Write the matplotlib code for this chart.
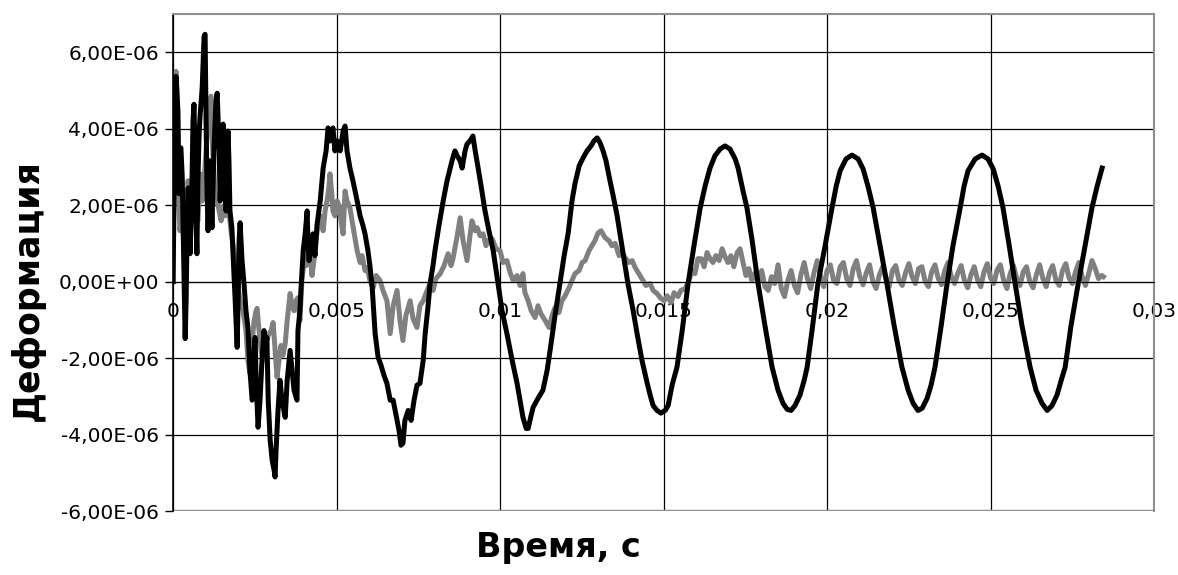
import numpy as np
import matplotlib
matplotlib.use("Agg")
import matplotlib.pyplot as plt
from matplotlib.ticker import FuncFormatter

# strain gauge records: (time, ms ; strain, 1e-6)
black = [(0, 0), (0.03, 2.11), (0.06, 4.98), (0.09, 5.37), (0.15, 4.46), (0.18, 2.30), (0.21, 3.42),
         (0.24, 3.50), (0.28, 2.77), (0.31, 1.33), (0.34, -0.23), (0.37, -1.49), (0.40, -0.50),
         (0.43, 1.33), (0.46, 2.45), (0.49, 2.11), (0.52, 0.73), (0.58, 2.64), (0.61, 4.20),
         (0.64, 4.64), (0.67, 3.42), (0.70, 1.59), (0.73, 0.73), (0.76, 2.64), (0.80, 3.94),
         (0.83, 4.38), (0.86, 4.72), (0.89, 5.06), (0.92, 5.77), (0.95, 6.42), (0.98, 6.47),
         (1.01, 4.20), (1.04, 2.37), (1.07, 1.33), (1.13, 3.16), (1.19, 1.41), (1.25, 3.42),
         (1.31, 4.72), (1.35, 4.93), (1.41, 3.42), (1.44, 2.11), (1.47, 2.64), (1.53, 4.12),
         (1.59, 2.90), (1.62, 1.85), (1.65, 3.16), (1.68, 3.94), (1.71, 3.16), (1.74, 1.85),
         (1.80, 1.41), (1.83, 0.81), (1.90, -0.50), (1.96, -1.72), (1.99, -0.50), (2.02, 1.07),
         (2.05, 1.54), (2.08, 1.07), (2.11, 0.55), (2.17, -0.05), (2.23, -0.76), (2.29, -1.20),
         (2.35, -2.32), (2.42, -3.10), (2.45, -2.97), (2.48, -1.80), (2.51, -1.46), (2.54, -2.58),
         (2.60, -3.81), (2.66, -3.10), (2.72, -2.06), (2.78, -1.28), (2.84, -1.67), (2.87, -1.46),
         (2.91, -3.10), (2.97, -4.15), (3.03, -4.67), (3.09, -4.93), (3.12, -5.11), (3.15, -4.41),
         (3.21, -3.37), (3.27, -2.58), (3.33, -3.10), (3.43, -3.55), (3.49, -2.58), (3.58, -1.80),
         (3.64, -2.32), (3.70, -2.84), (3.79, -3.10), (3.82, -1.28), (3.88, -0.76), (3.91, -0.23),
         (3.98, 0.81), (4.04, 1.25), (4.10, 1.85), (4.13, 0.94), (4.16, 0.55), (4.22, 1.07),
         (4.28, 1.25), (4.34, 0.68), (4.40, 1.46), (4.50, 2.11), (4.59, 2.97), (4.68, 3.42),
         (4.74, 4.02), (4.80, 3.68), (4.89, 4.02), (4.95, 3.42), (5.02, 3.68), (5.11, 3.42),
         (5.20, 3.94), (5.26, 4.07), (5.32, 3.42), (5.41, 2.97), (5.50, 2.64), (5.63, 2.11),
         (5.72, 1.72), (5.81, 1.46), (5.87, 1.25), (5.96, 0.81), (6.02, 0.42), (6.09, -0.16),
         (6.18, -1.36), (6.27, -1.98), (6.36, -2.19), (6.45, -2.45), (6.54, -2.66), (6.64, -3.10),
         (6.73, -3.10), (6.82, -3.50), (6.91, -3.89), (6.97, -4.28), (7.03, -4.23), (7.09, -3.63),
         (7.19, -3.37), (7.28, -3.63), (7.37, -3.10), (7.46, -2.71), (7.55, -2.66), (7.65, -2.06),
         (7.71, -1.36), (7.80, -0.63), (7.86, -0.05), (7.95, 0.42), (8.01, 0.81), (8.13, 1.46),
         (8.26, 2.11), (8.38, 2.64), (8.53, 3.16), (8.62, 3.42), (8.69, 3.29), (8.78, 3.16),
         (8.84, 2.97), (8.93, 3.42), (8.99, 3.60), (9.08, 3.68), (9.17, 3.81), (9.24, 3.42),
         (9.33, 2.97), (9.42, 2.50), (9.54, 1.85), (9.66, 1.33), (9.79, 0.81), (9.88, 0.29),
         (9.94, -0.05), (10.06, -0.76), (10.21, -1.36), (10.37, -2.06), (10.52, -2.66),
         (10.61, -3.10), (10.70, -3.55), (10.80, -3.84), (10.86, -3.84), (10.95, -3.50),
         (11.01, -3.29), (11.13, -3.10), (11.22, -2.97), (11.31, -2.84), (11.44, -2.32),
         (11.53, -1.80), (11.68, -0.89), (11.83, -0.05), (11.96, 0.68), (12.08, 1.25),
         (12.20, 2.11), (12.29, 2.56), (12.42, 3.03), (12.54, 3.24), (12.66, 3.42), (12.78, 3.55),
         (12.87, 3.68), (12.97, 3.76), (13.06, 3.63), (13.15, 3.42), (13.24, 3.16), (13.33, 2.77),
         (13.46, 2.24), (13.58, 1.72), (13.70, 1.07), (13.82, 0.42), (13.91, -0.05), (14.07, -0.76),
         (14.19, -1.36), (14.34, -2.06), (14.50, -2.66), (14.59, -2.97), (14.68, -3.24),
         (14.80, -3.37), (14.92, -3.44), (15.05, -3.37), (15.14, -3.24), (15.26, -2.71),
         (15.41, -2.24), (15.57, -1.28), (15.75, -0.05), (15.93, 0.94), (16.12, 1.93),
         (16.27, 2.50), (16.42, 2.97), (16.57, 3.29), (16.73, 3.47), (16.88, 3.55), (17.03, 3.47),
         (17.19, 3.21), (17.28, 2.97), (17.43, 2.37), (17.55, 1.93), (17.71, 1.07), (17.89, -0.05),
         (18.10, -1.15), (18.32, -2.24), (18.50, -2.84), (18.65, -3.18), (18.78, -3.34),
         (18.90, -3.37), (19.02, -3.24), (19.17, -2.97), (19.30, -2.58), (19.39, -2.24),
         (19.54, -1.28), (19.72, -0.05), (19.94, 0.94), (20.15, 1.93), (20.28, 2.50), (20.40, 2.90),
         (20.58, 3.21), (20.76, 3.31), (20.95, 3.21), (21.10, 2.95), (21.25, 2.50), (21.41, 1.93),
         (21.62, 0.94), (21.83, -0.05), (22.05, -1.15), (22.29, -2.24), (22.48, -2.84),
         (22.63, -3.18), (22.78, -3.37), (22.91, -3.31), (23.06, -3.05), (23.18, -2.71),
         (23.30, -2.24), (23.49, -1.15), (23.67, -0.05), (23.85, 0.94), (24.07, 1.93),
         (24.19, 2.50), (24.31, 2.90), (24.53, 3.21), (24.74, 3.31), (24.92, 3.21), (25.08, 2.95),
         (25.23, 2.50), (25.38, 1.93), (25.57, 0.94), (25.75, -0.05), (25.96, -1.15),
         (26.21, -2.24), (26.39, -2.84), (26.57, -3.18), (26.73, -3.37), (26.88, -3.24),
         (27.03, -2.97), (27.16, -2.58), (27.28, -2.24), (27.46, -1.15), (27.68, -0.05),
         (27.89, 0.94), (28.10, 1.93), (28.26, 2.50), (28.41, 2.97)]

gray = [(0, 0), (0.03, 3.42), (0.06, 5.24), (0.09, 5.50), (0.12, 4.98), (0.15, 3.42), (0.18, 2.11),
        (0.21, 1.33), (0.28, 1.85), (0.34, 0.81), (0.40, 1.33), (0.46, 2.64), (0.52, 1.85),
        (0.58, 2.11), (0.64, 2.37), (0.70, 1.85), (0.76, 1.59), (0.83, 2.82), (0.89, 2.11),
        (0.95, 2.64), (1.01, 3.42), (1.07, 4.20), (1.13, 4.77), (1.16, 4.85), (1.19, 3.94),
        (1.22, 3.34), (1.28, 2.37), (1.35, 2.11), (1.41, 1.85), (1.47, 1.59), (1.53, 1.98),
        (1.59, 1.72), (1.68, 2.11), (1.77, 1.33), (1.86, 0.81), (1.96, 0.03), (2.05, -0.50),
        (2.14, -0.76), (2.23, -1.28), (2.29, -2.06), (2.35, -2.40), (2.42, -1.54), (2.48, -1.02),
        (2.54, -0.76), (2.57, -0.70), (2.63, -1.28), (2.69, -1.80), (2.75, -2.06), (2.81, -1.67),
        (2.91, -1.41), (3.00, -1.28), (3.06, -1.07), (3.12, -1.80), (3.18, -2.50), (3.24, -2.06),
        (3.30, -1.67), (3.36, -1.93), (3.43, -1.62), (3.49, -1.02), (3.58, -0.31), (3.64, -0.63),
        (3.70, -0.76), (3.76, -0.50), (3.82, -0.42), (3.88, -1.02), (3.94, 0.03), (4.01, 0.55),
        (4.07, 0.42), (4.13, 0.81), (4.19, 0.68), (4.25, 0.16), (4.31, 0.55), (4.37, 1.07),
        (4.43, 1.46), (4.50, 1.72), (4.59, 1.33), (4.65, 1.85), (4.71, 2.11), (4.77, 2.50),
        (4.80, 2.82), (4.86, 2.24), (4.89, 1.85), (4.95, 1.72), (5.02, 2.11), (5.08, 1.98),
        (5.14, 1.59), (5.20, 1.25), (5.26, 2.37), (5.32, 2.11), (5.41, 1.93), (5.50, 1.46),
        (5.63, 0.81), (5.72, 0.50), (5.78, 0.68), (5.87, 0.29), (5.93, 0.37), (6.02, 0.03),
        (6.12, -0.16), (6.21, 0.16), (6.33, 0.03), (6.42, -0.23), (6.54, -0.50), (6.64, -1.36),
        (6.73, -0.63), (6.85, -0.23), (6.94, -1.02), (7.03, -1.54), (7.12, -0.89), (7.25, -0.50),
        (7.34, -0.97), (7.46, -1.20), (7.55, -0.63), (7.65, -0.50), (7.77, -0.23), (7.86, -0.05),
        (7.95, -0.23), (8.04, 0.08), (8.17, 0.21), (8.29, 0.42), (8.41, 0.73), (8.50, 0.42),
        (8.56, 0.60), (8.69, 1.20), (8.78, 1.67), (8.87, 1.07), (8.99, 0.55), (9.08, 1.20),
        (9.14, 1.59), (9.24, 1.33), (9.30, 1.41), (9.39, 1.20), (9.48, 1.25), (9.57, 0.94),
        (9.63, 1.07), (9.76, 1.12), (9.88, 0.86), (10.00, 0.81), (10.09, 0.50), (10.21, 0.55),
        (10.31, 0.23), (10.40, 0.03), (10.52, 0.16), (10.61, -0.10), (10.70, 0.21), (10.76, -0.29),
        (10.86, -0.50), (10.95, -0.76), (11.07, -0.94), (11.16, -0.63), (11.25, -0.84),
        (11.38, -1.02), (11.50, -1.20), (11.59, -0.89), (11.68, -0.68), (11.80, -0.81),
        (11.89, -0.50), (11.99, -0.37), (12.11, -0.16), (12.20, 0.03), (12.29, 0.21), (12.42, 0.29),
        (12.51, 0.50), (12.60, 0.55), (12.72, 0.81), (12.81, 0.94), (12.90, 1.07), (13.00, 1.28),
        (13.09, 1.33), (13.21, 1.15), (13.33, 1.07), (13.42, 0.94), (13.52, 1.00), (13.64, 0.68),
        (13.73, 0.76), (13.82, 0.63), (13.94, 0.50), (14.04, 0.55), (14.13, 0.37), (14.28, 0.16),
        (14.37, 0.03), (14.46, -0.10), (14.59, -0.05), (14.68, -0.23), (14.80, -0.31),
        (14.92, -0.44), (15.02, -0.50), (15.11, -0.37), (15.23, -0.55), (15.32, -0.29),
        (15.44, -0.39), (15.53, -0.23), (15.66, -0.18), (15.78, 0.03), (15.87, 0.29), (15.96, 0.21),
        (16.05, 0.60), (16.15, 0.60), (16.24, 0.39), (16.33, 0.76), (16.42, 0.60), (16.51, 0.50),
        (16.60, 0.68), (16.70, 0.55), (16.79, 0.86), (16.88, 0.65), (16.97, 0.50), (17.06, 0.68),
        (17.15, 0.39), (17.25, 0.76), (17.34, 0.86), (17.43, 0.50), (17.52, 0.16), (17.61, 0.34),
        (17.7, 0.03), (17.8, 0.23), (17.9, -0.05), (18.0, 0.29), (18.1, -0.13), (18.2, -0.23),
        (18.3, 0.13), (18.4, -0.05), (18.5, 0.44), (18.6, -0.18), (18.7, -0.39), (18.8, 0.03),
        (18.9, 0.29), (19.0, -0.10), (19.1, -0.29), (19.2, 0.18), (19.3, 0.50), (19.4, 0.08),
        (19.5, -0.18), (19.6, 0.23), (19.7, 0.55), (19.8, 0.13), (19.9, -0.13), (20.0, 0.29),
        (20.1, 0.44), (20.2, 0.03), (20.3, -0.05), (20.4, 0.39), (20.5, 0.50), (20.6, 0.08),
        (20.7, -0.10), (20.8, 0.34), (20.9, 0.55), (21.0, 0.13), (21.1, -0.08), (21.2, 0.23),
        (21.3, 0.44), (21.4, 0.00), (21.5, -0.18), (21.6, 0.18), (21.7, 0.39), (21.8, 0.08),
        (21.9, -0.13), (22.0, 0.29), (22.1, 0.42), (22.2, 0.03), (22.3, -0.10), (22.4, 0.23),
        (22.5, 0.47), (22.6, 0.13), (22.7, -0.05), (22.8, 0.34), (22.9, 0.39), (23.0, 0.00),
        (23.1, -0.13), (23.2, 0.26), (23.3, 0.44), (23.4, 0.08), (23.5, -0.08), (23.6, 0.29),
        (23.7, 0.50), (23.8, 0.13), (23.9, -0.05), (24.0, 0.23), (24.1, 0.42), (24.2, 0.03),
        (24.3, -0.16), (24.4, 0.18), (24.5, 0.39), (24.6, 0.05), (24.7, -0.13), (24.8, 0.26),
        (24.9, 0.47), (25.0, 0.10), (25.1, -0.05), (25.2, 0.31), (25.3, 0.44), (25.4, 0.03),
        (25.5, -0.18), (25.6, 0.21), (25.7, 0.42), (25.8, 0.08), (25.9, -0.10), (26.0, 0.26),
        (26.1, 0.39), (26.2, 0.00), (26.3, -0.16), (26.4, 0.18), (26.5, 0.44), (26.6, 0.08),
        (26.7, -0.13), (26.8, 0.23), (26.9, 0.42), (27.0, 0.03), (27.1, -0.10), (27.2, 0.29),
        (27.3, 0.47), (27.4, 0.10), (27.5, -0.05), (27.6, 0.26), (27.7, 0.50), (27.8, 0.13),
        (27.9, -0.10), (28.0, 0.21), (28.1, 0.55), (28.2, 0.34), (28.3, 0.08), (28.4, 0.16),
        (28.45, 0.13)]

x_ticks = [0, 0.005, 0.01, 0.015, 0.02, 0.025, 0.03]
y_ticks = [-6e-6, -4e-6, -2e-6, 0, 2e-6, 4e-6, 6e-6]

t_black, eps_black = np.array(black).T
t_gray, eps_gray = np.array(gray).T

fig = plt.figure(figsize=(11.78, 5.75), dpi=100)
ax = fig.add_axes([0.1469, 0.1113, 0.8328, 0.8643])

ax.plot(t_gray * 1e-3, eps_gray * 1e-6, color='#808080', lw=3.6, solid_joinstyle='round')
ax.plot(t_black * 1e-3, eps_black * 1e-6, color='black', lw=3.6, solid_joinstyle='round')

ax.set_xlim(0, 0.03)
ax.set_ylim(-6e-6, 7e-6)
ax.set_xticks(x_ticks)
ax.set_yticks(y_ticks)
ax.xaxis.set_major_formatter(FuncFormatter(lambda v, p: f"{v:g}".replace('.', ',')))
ax.yaxis.set_major_formatter(FuncFormatter(lambda v, p: f"{v:.2E}".replace('.', ',')))
ax.tick_params(axis='y', direction='out', length=6, width=1, labelsize=14.5, pad=4)
ax.tick_params(axis='x', direction='out', length=0, labelsize=14.5, pad=15)
ax.grid(True, color='black', lw=0.9)
ax.set_axisbelow(True)

ax.spines['bottom'].set_position(('data', 0))
ax.spines['bottom'].set_color('black')
ax.spines['left'].set_color('black')
ax.spines['left'].set_linewidth(1.2)
for s in ['top', 'right']:
    ax.spines[s].set_color('#909090')
    ax.spines[s].set_linewidth(1.5)
ax.axhline(-6e-6, color='#909090', lw=2.5, zorder=0.6)

fig.text(0.4737, 0.047, 'Время, с', ha='center', va='center', fontsize=24, fontweight='bold')
fig.text(0.023, 0.496, 'Деформация', ha='center', va='center', rotation=90,
         fontsize=25, fontweight='bold')

fig.savefig('out.png', dpi=100, facecolor='white')
